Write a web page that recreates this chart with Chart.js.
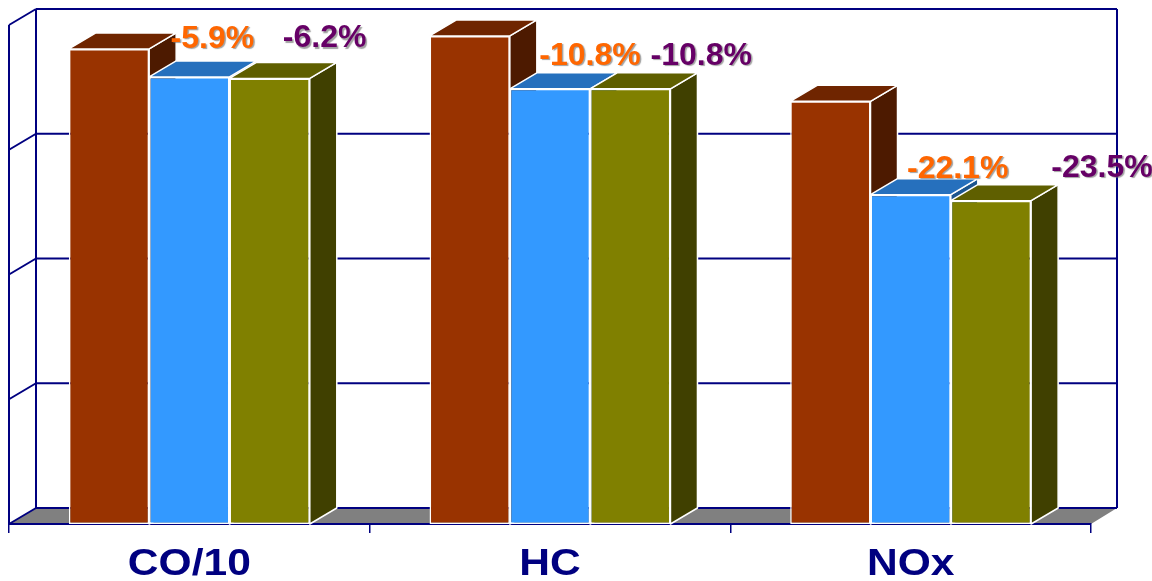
<!DOCTYPE html>
<html>
<head>
<meta charset="utf-8">
<style>
html,body{margin:0;padding:0;background:#fff;overflow:hidden}
#wrap{width:1152px;height:581px;position:relative}
</style>
<script src="https://cdn.jsdelivr.net/npm/chart.js@4"></script>
</head>
<body>
<div id="wrap"><canvas id="c" width="1152" height="581"></canvas></div>
<script>
// Emission categories and the three bar series per category
const categories = ["CO/10", "HC", "NOx"];
const baseValues = [95.2, 97.8, 84.7];
const blendAValues = [89.6, 87.2, 66.0];
const blendBValues = [89.3, 87.2, 64.8];
// Percentage change printed above each blend
const blendAChange = ["-5.9%", "-10.8%", "-22.1%"];
const blendBChange = ["-6.2%", "-10.8%", "-23.5%"];
const yTicks = [0, 25, 50, 75, 100];

const NAVY = "#000080";
const DEPTH = {x: 27, y: -16};

// Shade colours for each series: [top face, side face]
const shades = [["#6f2500", "#4d1a00"], ["#2670bd", "#1c558f"], ["#5f5f00", "#404000"]];

// Label placement relative to the bar's top centre, per category
const labelStyle = [
  {color: "#ff6600", dx: [23, 40, 47], dy: [-29, -24, -17]},
  {color: "#660066", dx: [55, 71, 111], dy: [-31, -24, -24]}
];
const changeSets = [blendAChange, blendBChange];

function poly(ctx, pts, fill, stroke, lw) {
  ctx.beginPath();
  pts.forEach((p, i) => i ? ctx.lineTo(p[0], p[1]) : ctx.moveTo(p[0], p[1]));
  ctx.closePath();
  if (fill) { ctx.fillStyle = fill; ctx.fill(); }
  if (stroke) { ctx.strokeStyle = stroke; ctx.lineWidth = lw; ctx.stroke(); }
}

function segment(ctx, x0, y0, x1, y1) {
  ctx.beginPath();
  ctx.moveTo(x0, y0);
  ctx.lineTo(x1, y1);
  ctx.stroke();
}

// Back wall, side wall and floor of the 3D box
const roomPlugin = {
  id: "room",
  beforeDraw(chart) {
    const {ctx, chartArea: a, scales: {y}} = chart;
    const bl = a.left + DEPTH.x, br = a.right + DEPTH.x - 1;
    const floorY = a.bottom + DEPTH.y;
    ctx.save();
    poly(ctx, [[a.left, a.bottom], [bl, floorY], [br, floorY], [a.right, a.bottom]], "#808080");
    ctx.strokeStyle = NAVY;
    ctx.lineWidth = 2;
    yTicks.forEach(t => {
      const py = y.getPixelForValue(t);
      segment(ctx, a.left, py, bl, py + DEPTH.y);
      segment(ctx, bl, py + DEPTH.y, br, py + DEPTH.y);
    });
    segment(ctx, a.left, a.top, a.left, a.bottom);
    segment(ctx, bl, a.top + DEPTH.y, bl, floorY);
    segment(ctx, br, a.top + DEPTH.y, br, floorY);
    ctx.restore();
  },
  // Side and top faces, left to right, so each bar's top covers its neighbour's side
  beforeDatasetsDraw(chart) {
    const {ctx} = chart;
    ctx.save();
    ctx.lineJoin = "round";
    for (let s = 0; s < chart.data.datasets.length; s++) {
      const tone = shades[s];
      chart.getDatasetMeta(s).data.forEach(bar => {
        const l = bar.x - bar.width / 2, r = bar.x + bar.width / 2;
        const t = bar.y, b = bar.base;
        poly(ctx, [[r, t], [r + DEPTH.x, t + DEPTH.y], [r + DEPTH.x, b + DEPTH.y], [r, b]], tone[1], "#ffffff", 1.5);
        poly(ctx, [[l, t], [l + DEPTH.x, t + DEPTH.y], [r + DEPTH.x, t + DEPTH.y], [r, t]], tone[0], "#ffffff", 1.5);
      });
    }
    ctx.restore();
  },
  // Category names and percentage labels on top of everything
  afterDatasetsDraw(chart) {
    const {ctx, scales: {x}} = chart;
    ctx.save();
    ctx.textAlign = "center";
    ctx.textBaseline = "alphabetic";

    ctx.font = "bold 37px 'Liberation Sans'";
    ctx.fillStyle = NAVY;
    categories.forEach((name, i) => {
      ctx.save();
      ctx.translate(x.getPixelForValue(i), 575);
      ctx.scale(1.15, 1);
      ctx.fillText(name, 0, 0);
      ctx.restore();
    });

    ctx.font = "bold 32px 'Liberation Sans'";
    ctx.shadowColor = "rgba(110,110,110,0.65)";
    ctx.shadowOffsetX = 1.5;
    ctx.shadowOffsetY = 1.5;
    ctx.shadowBlur = 1;
    changeSets.forEach((set, s) => {
      const meta = chart.getDatasetMeta(s + 1);
      ctx.fillStyle = labelStyle[s].color;
      set.forEach((text, i) => {
        const bar = meta.data[i];
        ctx.fillText(text, bar.x + labelStyle[s].dx[i], bar.y + labelStyle[s].dy[i]);
      });
    });
    ctx.restore();
  }
};

function series(label, data, color) {
  return {
    label, data,
    backgroundColor: color,
    borderColor: "#ffffff",
    borderWidth: 1.5,
    borderSkipped: false,
    barPercentage: 1,
    categoryPercentage: 0.668
  };
}

new Chart(document.getElementById("c"), {
  type: "bar",
  data: {
    labels: categories,
    datasets: [
      series("Base", baseValues, "#993300"),
      series("Blend A", blendAValues, "#3399ff"),
      series("Blend B", blendBValues, "#808000")
    ]
  },
  plugins: [roomPlugin],
  options: {
    responsive: false,
    animation: false,
    layout: {padding: {left: 9, right: 61, top: 25, bottom: 0}},
    plugins: {legend: {display: false}, tooltip: {enabled: false}},
    scales: {
      x: {
        afterFit(scale) { scale.height = 57; },
        ticks: {display: false},
        border: {display: true, color: NAVY, width: 2},
        grid: {drawOnChartArea: false, drawTicks: true, tickLength: 9, color: NAVY, lineWidth: 1.5}
      },
      y: {
        display: false,
        min: 0,
        max: 100,
        ticks: {stepSize: 25}
      }
    }
  }
});
</script>
</body>
</html>
